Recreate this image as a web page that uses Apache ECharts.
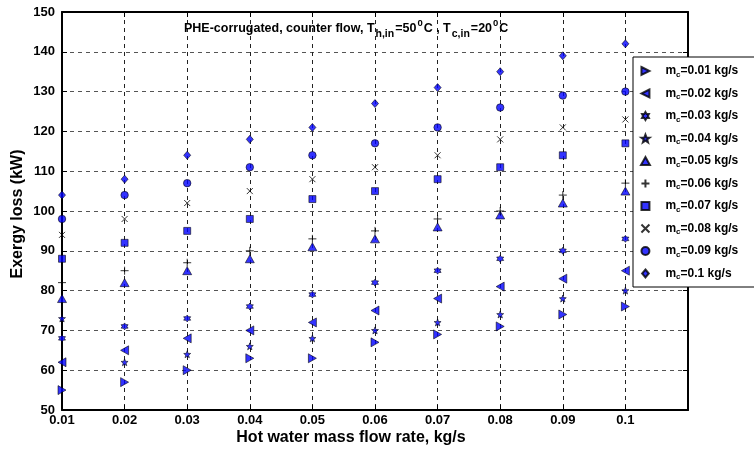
<!DOCTYPE html>
<html><head><meta charset="utf-8">
<script src="https://cdn.jsdelivr.net/npm/echarts@6/dist/echarts.min.js"></script>
<style>html,body{margin:0;padding:0;background:#fff}#c{width:754px;height:452px}</style>
</head><body><div id="c"></div>
<script>
// ---- data ----
const xValues = [0.01, 0.02, 0.03, 0.04, 0.05, 0.06, 0.07, 0.08, 0.09, 0.1];
const mcLabels = ['0.01', '0.02', '0.03', '0.04', '0.05', '0.06', '0.07', '0.08', '0.09', '0.1'];
const mc001 = [55, 57, 60, 63, 63, 67, 69, 71, 74, 76];
const mc002 = [62, 65, 68, 70, 72, 75, 78, 81, 83, 85];
const mc003 = [68, 71, 73, 76, 79, 82, 85, 88, 90, 93];
const mc004 = [73, 62, 64, 66, 68, 70, 72, 74, 78, 80];
const mc005 = [78, 82, 85, 88, 91, 93, 96, 99, 102, 105];
const mc006 = [82, 85, 87, 90, 93, 95, 98, 100, 104, 107];
const mc007 = [88, 92, 95, 98, 103, 105, 108, 111, 114, 117];
const mc008 = [94, 98, 102, 105, 108, 111, 114, 118, 121, 123];
const mc009 = [98, 104, 107, 111, 114, 117, 121, 126, 129, 130];
const mc010 = [104, 108, 114, 118, 121, 127, 131, 135, 139, 142];
const yTicks = [50, 60, 70, 80, 90, 100, 110, 120, 130, 140, 150];

// ---- styles ----
const FONT = '"Liberation Sans", Arial, sans-serif';
function starPath(n, rIn) {
  let d = '';
  for (let i = 0; i < 2 * n; i++) {
    const r = (i % 2 === 0) ? 1 : rIn;
    const a = -Math.PI / 2 + i * Math.PI / n;
    const x = (50 + 50 * r * Math.cos(a)).toFixed(2);
    const y = (50 + 50 * r * Math.sin(a)).toFixed(2);
    d += (i === 0 ? 'M' : 'L') + x + ',' + y + ' ';
  }
  return 'path://' + d + 'Z';
}
const BLUE = '#0000ff';
const markerDefs = [
  {symbol: 'path://M0,0 L10,5 L0,10 Z', size: [8, 9]},
  {symbol: 'path://M10,0 L0,5 L10,10 Z', size: [8, 9]},
  {symbol: starPath(6, 0.6), size: 7},
  {symbol: starPath(5, 0.42), size: 7},
  {symbol: 'path://M5,0 L10,9 L0,9 Z', size: [9, 8]},
  {symbol: 'path://M5,0 L5,10 M0,5 L10,5', size: 8, line: true},
  {symbol: 'path://M0,0 L10,0 L10,10 L0,10 Z', size: 7},
  {symbol: 'path://M0,0 L10,10 M10,0 L0,10', size: 6, line: true},
  {symbol: 'circle', size: 7.5},
  {symbol: 'path://M5,0 L10,6 L5,12 L0,6 Z', size: [7, 8]}
];
const allSeries = [mc001, mc002, mc003, mc004, mc005, mc006, mc007, mc008, mc009, mc010];

const series = allSeries.map((vals, i) => ({
  name: mcLabels[i],
  type: 'scatter',
  data: vals.map((v, j) => [xValues[j], v]),
  symbol: markerDefs[i].symbol,
  symbolSize: markerDefs[i].size,
  itemStyle: markerDefs[i].line
    ? {color: '#000', borderColor: '#000', borderWidth: 1}
    : {color: BLUE, borderColor: '#000', borderWidth: 0.7},
  emphasis: {disabled: true},
  z: 3
}));

const gridLine = (c) => ({show: true, lineStyle: {type: [4, 4], color: c, width: 1}});

const option = {
  animation: false,
  backgroundColor: '#fff',
  textStyle: {fontFamily: FONT},
  grid: {left: 62, top: 12, right: 66, bottom: 42, containLabel: false},
  title: {
    left: 184, top: 18, padding: 0,
    text: '{a|PHE-corrugated, counter flow, T}{s|h,in}{a|=50}{p|0}{a|C , T}{s|c,in}{a|=20}{p|0}{a|C}',
    textStyle: {
      rich: {
        a: {fontSize: 12.5, fontWeight: 'bold', color: '#000', fontFamily: FONT, lineHeight: 22, verticalAlign: 'middle'},
        s: {fontSize: 10.5, fontWeight: 'bold', color: '#000', fontFamily: FONT, lineHeight: 22, verticalAlign: 'bottom', padding: [0, 1, 0, 1]},
        p: {fontSize: 9.5, fontWeight: 'bold', color: '#000', fontFamily: FONT, lineHeight: 22, verticalAlign: 'top', padding: [0, 1, 0, 1]}
      }
    }
  },
  legend: {
    orient: 'vertical',
    left: 633, top: 57,
    padding: [8, 60, 6, 7],
    itemWidth: 30, itemHeight: 8, itemGap: 9,
    borderColor: '#000', borderWidth: 1, backgroundColor: '#fff',
    data: mcLabels,
    formatter: (n) => '{a|m}{s|c}{a|=' + n + ' kg/s}',
    textStyle: {
      rich: {
        a: {fontSize: 12, fontWeight: 'bold', color: '#000', fontFamily: FONT, lineHeight: 15, verticalAlign: 'middle'},
        s: {fontSize: 8, fontWeight: 'bold', color: '#000', fontFamily: FONT, lineHeight: 15, verticalAlign: 'bottom'}
      }
    },
    z: 10
  },
  xAxis: [{
    type: 'value', min: 0.01, max: 0.11, interval: 0.01,
    axisLine: {show: true, onZero: false, lineStyle: {color: '#000', width: 2}},
    axisTick: {show: true, inside: true, length: 5, lineStyle: {color: '#000', width: 1}},
    axisLabel: {
      margin: 4, color: '#000', fontSize: 13, fontWeight: 'bold', fontFamily: FONT,
      formatter: (v) => v > 0.105 ? '' : String(+v.toFixed(2))
    },
    splitLine: gridLine('#222')
  }, {
    type: 'value', position: 'top', min: 0.01, max: 0.11, interval: 0.01,
    axisLine: {show: true, onZero: false, lineStyle: {color: '#000', width: 2}},
    axisTick: {show: true, inside: true, length: 5, lineStyle: {color: '#000'}},
    axisLabel: {show: false}, splitLine: {show: false}
  }],
  yAxis: [{
    type: 'value', min: yTicks[0], max: yTicks[yTicks.length - 1], interval: 10,
    axisLine: {show: true, onZero: false, lineStyle: {color: '#000', width: 2}},
    axisTick: {show: true, inside: true, length: 5, lineStyle: {color: '#000'}},
    axisLabel: {margin: 7, color: '#000', fontSize: 13, fontWeight: 'bold', fontFamily: FONT},
    splitLine: gridLine('#555')
  }, {
    type: 'value', position: 'right', min: yTicks[0], max: yTicks[yTicks.length - 1], interval: 10,
    axisLine: {show: true, onZero: false, lineStyle: {color: '#000', width: 2}},
    axisTick: {show: true, inside: true, length: 5, lineStyle: {color: '#000'}},
    axisLabel: {show: false}, splitLine: {show: false}
  }],
  graphic: [
    {type: 'text', x: 351, y: 438, z: 5,
     style: {text: 'Hot water mass flow rate, kg/s', fontSize: 16, fontWeight: 'bold', fontFamily: FONT, fill: '#000', align: 'center', verticalAlign: 'middle'}},
    {type: 'text', x: 18, y: 214, rotation: Math.PI / 2, z: 5,
     style: {text: 'Exergy loss (kW)', fontSize: 16, fontWeight: 'bold', fontFamily: FONT, fill: '#000', align: 'center', verticalAlign: 'middle'}}
  ],
  series: series
};

const chart = echarts.init(document.getElementById('c'), null, {renderer: 'canvas'});
chart.setOption(option);
</script>
</body></html>
